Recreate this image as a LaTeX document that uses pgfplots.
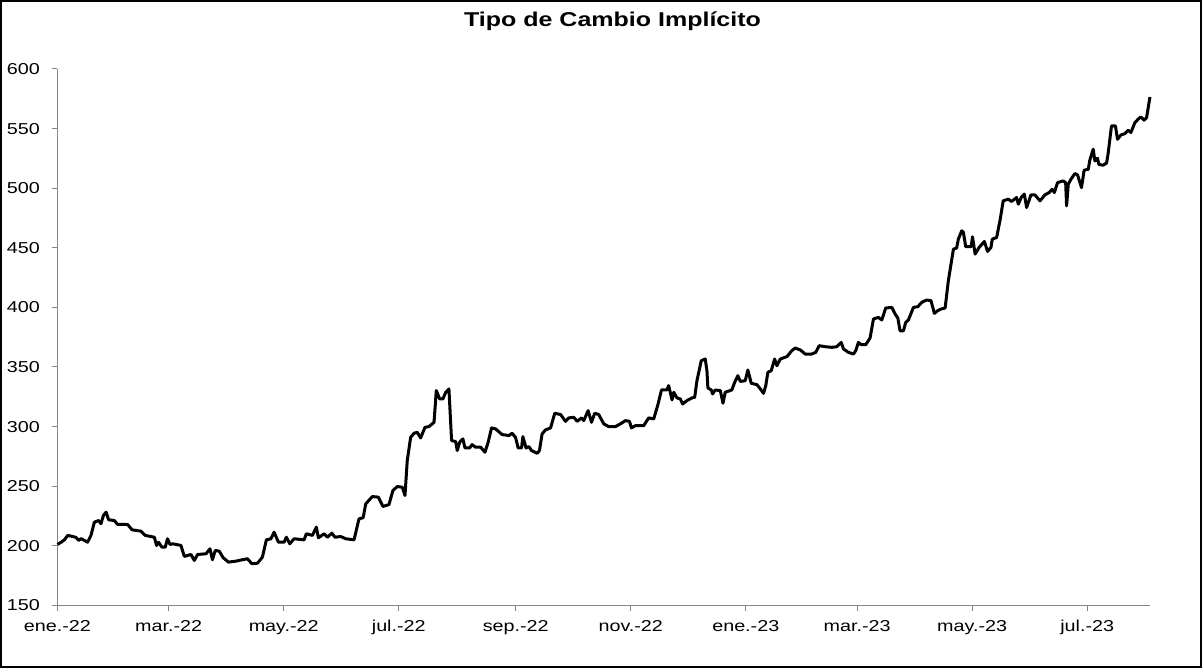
\documentclass[border=0pt]{standalone}
\usepackage{fontspec}
\setmainfont[FakeStretch=1.25]{Liberation Sans}
\usepackage{pgfplots}
\pgfplotsset{compat=1.18}
\definecolor{axgray}{RGB}{134,134,134}
\begin{document}
\begin{tikzpicture}[x=1pt,y=1pt]
\useasboundingbox (0,0) rectangle (1203,668);
\draw[line width=2pt] (1,1) rectangle (1201,667);
\node[anchor=base,font=\fontsize{20}{22}\selectfont\bfseries] at (612.5,641.3) {Tipo de Cambio Implícito};
\begin{axis}[
  at={(57.4pt,62.6pt)}, anchor=south west,
  scale only axis, width=1092.6pt, height=536.4pt,
  xmin=0, xmax=579.3, ymin=150, ymax=600,
  axis lines*=left,
  axis line style={axgray, line width=1pt},
  every tick/.style={axgray, line width=1pt},
  tick align=outside, major tick length=5.5pt,
  xtick={0,59,120,181,243,304,365,424,485,546},
  xticklabels={ene.-22, mar.-22, may.-22, jul.-22, sep.-22, nov.-22, ene.-23, mar.-23, may.-23, jul.-23},
  ytick={150,200,...,600},
  /pgf/number format/assume math mode=true,
  /pgf/number format/1000 sep={},
  tick label style={font=\fontsize{15.8}{18}\selectfont},
  yticklabel style={xshift=-8.5pt},
  xticklabel style={yshift=-6pt},
  clip=false,
]
\addplot[black, line width=3pt, line join=round] coordinates {
(0,201.1)(2.0,203)(3.7,205)(5.5,208.7)(8.1,207.8)(9.9,207)(11.3,204.5)(12.6,206)(14.3,204.5)(16.0,203)
(17.8,208.7)(19.6,219.8)(21.9,221.2)(23.1,218.5)(24.4,225.4)(25.8,228.2)(27.2,221.8)(30.2,221.2)(31.9,217.9)
(37.2,217.9)(39.6,213.4)(44.3,212.3)(46.6,208.7)(51.4,207.2)(52.6,200.3)(53.6,203)(55.4,198.9)(57.2,198.9)
(58.4,205.9)(59.7,201.1)(61.1,201.7)(65.5,200.3)(67.3,191.1)(70.8,192.7)(72.6,187.7)(74.3,192.7)(78.8,193.3)
(80.9,197.5)(82.2,188.3)(83.7,196.1)(85.8,195.5)(87.9,190)(90.7,186.3)(94.6,187.1)(98.1,188.3)(100.8,189.1)
(103.1,185)(106.1,185.4)(108.7,190.5)(110.8,205)(113.2,205.9)(114.9,211.4)(117.2,203)(120.2,203)(121.4,207.2)
(123.2,201.7)(125.5,205.9)(130.8,205)(132.0,210.1)(135.2,208.7)(137.3,215.6)(138.4,206.7)(141.4,210.1)
(143.2,207.2)(145.5,210.6)(147.2,207.2)(150.2,207.8)(152.9,205.9)(157.3,205)(159.9,222.6)(162.1,223.5)
(163.5,235.2)(167.0,241.3)(170.2,240.8)(172.6,233)(175.8,234.6)(177.9,246.4)(180.2,249.7)(182.9,249.1)
(184.3,242.2)(185.5,271.5)(187.3,291)(189.1,294.4)(190.8,295.2)(192.6,290.5)(194.9,299.4)(197.0,300)
(199.7,303.6)(200.9,330.2)(202.7,323.2)(204.4,323.2)(205.9,328.8)(207.6,331.6)(209.0,288.3)(211.2,287.4)
(212.0,279.9)(213.3,286.9)(215.0,289.7)(216.1,282.1)(218.6,282.1)(219.9,284.9)(221.7,282.7)(224.4,282.7)
(226.7,278.5)(228.4,286.9)(230.2,298.9)(232.3,298.1)(235.8,293.3)(239.4,292.5)(241.1,294.4)(242.9,291)
(244.3,282.1)(246.1,282.1)(246.8,291.6)(248.5,282.1)(250.0,283.2)(251.4,279.9)(254.4,277.6)(255.6,279.9)
(257.0,293.9)(258.8,297.2)(261.5,298.9)(263.7,311.2)(266.8,310.1)(269.4,304.4)(271.2,307.3)(273.8,307.8)
(275.6,304.4)(277.9,307.3)(279.1,305)(281.4,313.4)(283.2,303.6)(284.9,311.2)(287.0,310.1)(289.7,302.3)
(292.3,300)(295.9,300)(298.5,302.3)(301.2,305)(303.3,304.4)(304.4,298.9)(306.5,300.8)(310.9,300.8)
(313.5,307.3)(316.2,306.4)(318.5,319)(320.3,330.7)(323.2,330.7)(324.1,334.4)(325.9,322.4)(326.8,328.8)
(328.5,324.1)(330.3,323.2)(331.5,319)(333.8,321.8)(336.5,324.1)(337.9,324.5)(339.1,338.5)(341.4,355.3)
(343.5,356.7)(344.4,346.9)(344.9,332.4)(346.7,330.7)(347.4,327.4)(348.8,330.7)(351.5,330.2)(352.9,319.6)
(354.1,328.8)(357.6,330.7)(359.1,337.1)(360.8,342.7)(362.1,337.9)(364.7,338.5)(366.1,347.5)(367.9,336.3)
(370.9,335.2)(372.7,331.6)(374.4,327.9)(375.6,334.4)(376.7,345.5)(378.5,346.9)(380.3,356.7)(381.5,351.1)
(383.3,356.7)(386.8,358.7)(389.4,363.7)(391.2,365.9)(393.9,364.3)(396.5,360.9)(400.0,360.9)(402.1,362.3)
(403.9,367.9)(407.1,367)(410.6,366.5)(413.2,367)(415.6,370.6)(416.8,365.1)(419.4,362.3)(422.1,360.9)
(423.3,363.7)(424.7,370.6)(426.2,368.7)(428.6,368.7)(430.9,374.3)(432.7,390.3)(435.3,391.6)(437.1,389.4)
(439.2,399.5)(442.4,400)(444.2,394.4)(445.6,391.1)(446.8,380.4)(448.6,380.4)(449.8,387.4)(451.2,389.4)
(453.9,400)(456.2,400.6)(458.3,404.2)(460.9,406.2)(463.2,405.6)(465.0,395)(466.7,397.2)(468.5,398.6)
(470.7,399.5)(472.4,422.4)(475.1,448.9)(476.8,449.8)(477.7,457.3)(479.5,464.3)(480.4,462.8)(481.6,450.9)
(484.5,450.9)(485.2,459.2)(486.6,444.7)(488.7,450.3)(491.5,455.3)(493.2,447)(495.0,450.3)(495.7,457.3)
(498.0,458.6)(499.8,473)(501.5,489.4)(504.2,490.8)(505.9,488.8)(508.6,492.2)(509.5,486.6)(511.2,492.7)
(512.7,495)(513.9,483.8)(516.2,494.4)(518.3,494.4)(521.0,489.4)(523.6,494.4)(525.8,496.3)(527.5,499.1)
(528.6,496.3)(530.3,504.7)(533.3,506.1)(534.6,504.7)(535.1,485.2)(536.0,503.3)(537.4,507.5)(539.5,512.3)
(540.9,511.2)(543.0,500.5)(544.4,515.1)(546.6,515.9)(547.4,523.5)(549.2,532.7)(550.1,522.9)(551.5,525.1)
(552.2,519.9)(554.5,519.3)(556.3,521.2)(557.1,528.8)(558.9,552.2)(561.0,552.2)(562.1,541)(563.9,544.6)
(566.0,545.8)(567.8,548.6)(569.2,546.7)(571.3,555)(573.1,558)(574.5,559.8)(576.2,557)(577.5,559.2)(579.3,576.5)
};
\end{axis}
\end{tikzpicture}
\end{document}
